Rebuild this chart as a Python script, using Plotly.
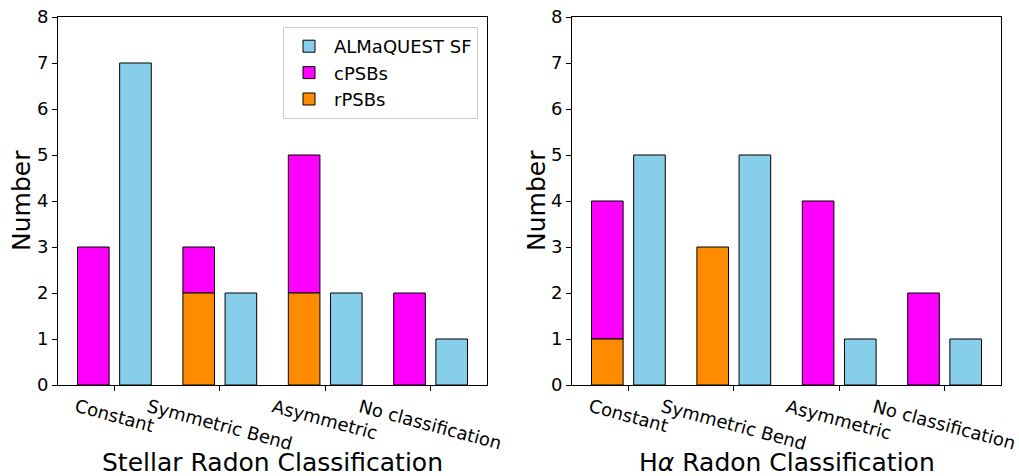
import numpy as np
import plotly.graph_objects as go

categories = ["Constant", "Symmetric Bend", "Asymmetric", "No classification"]

# Stellar Radon panel
stellar_sf = [7, 2, 2, 1]
stellar_cpsb = [3, 1, 3, 2]
stellar_rpsb = [0, 2, 2, 0]

# H-alpha Radon panel
halpha_sf = [5, 5, 1, 1]
halpha_cpsb = [3, 0, 4, 2]
halpha_rpsb = [1, 3, 0, 0]

titles = ["Stellar Radon Classification", "H<i>α</i> Radon Classification"]
ytitle = "Number"
yticks = [0, 1, 2, 3, 4, 5, 6, 7, 8]

C_SF = "#87CEEB"
C_C = "#FF00FF"
C_R = "#FF8C00"

W, H = 1019, 476
FONT = "DejaVu Sans"
TICK = 18
LAB = 25

# plot-area margins (pixels)
ML, MR, MT, MB = 58, 18, 17, 91
PW, PH = W - ML - MR, H - MT - MB

def px_x(p):  # figure pixel -> paper x
    return (p - ML) / PW

def px_y(p):  # figure pixel (from top) -> paper y
    return 1 - (p - MT) / PH

def nz(v):
    return [x if x != 0 else None for x in v]

fig = go.Figure()
x = np.arange(len(categories))
panels = [(stellar_sf, stellar_cpsb, stellar_rpsb), (halpha_sf, halpha_cpsb, halpha_rpsb)]
axes = [("x", "y"), ("x2", "y2")]
for p, ((sf, cp, rp), (xa, ya)) in enumerate(zip(panels, axes)):
    show = p == 0
    fig.add_trace(go.Bar(x=x + 0.2, y=sf, width=0.3, marker=dict(color=C_SF, line=dict(color="black", width=1)),
                         name="ALMaQUEST SF", showlegend=show, xaxis=xa, yaxis=ya))
    fig.add_trace(go.Bar(x=x - 0.2, y=nz(cp), base=rp, width=0.3, marker=dict(color=C_C, line=dict(color="black", width=1)),
                         name="cPSBs", showlegend=show, xaxis=xa, yaxis=ya))
    fig.add_trace(go.Bar(x=x - 0.2, y=nz(rp), width=0.3, marker=dict(color=C_R, line=dict(color="black", width=1)),
                         name="rPSBs", showlegend=show, xaxis=xa, yaxis=ya))

xdoms = [[px_x(58), px_x(487)], [px_x(572), px_x(1001)]]
ydom = [0, 1]

axcommon = dict(showline=True, linecolor="black", linewidth=1, mirror=True, showgrid=False, zeroline=False,
                ticks="outside", ticklen=5, tickcolor="black", tickwidth=1, automargin=False)
fig.update_layout(
    xaxis=dict(domain=xdoms[0], range=[-0.535, 3.535], tickvals=list(x), showticklabels=False, anchor="y", **axcommon),
    yaxis=dict(domain=ydom, range=[0, 8], tickvals=yticks, anchor="x", tickfont=dict(size=TICK, color="black"), **axcommon),
    xaxis2=dict(domain=xdoms[1], range=[-0.535, 3.535], tickvals=list(x), showticklabels=False, anchor="y2", **axcommon),
    yaxis2=dict(domain=ydom, range=[0, 8], tickvals=yticks, anchor="x2", tickfont=dict(size=TICK, color="black"), **axcommon),
)

anns = []
for p, xa in enumerate(["x", "x2"]):
    for i, c in enumerate(categories):
        anns.append(dict(x=i, xref=xa, y=px_y(394), yref="paper", text=c, showarrow=False, textangle=15,
                         xanchor="center", yanchor="top", font=dict(size=TICK, color="black", family=FONT), borderpad=0))
    xc = (xdoms[p][0] + xdoms[p][1]) / 2
    anns.append(dict(x=xc, xref="paper", y=px_y(462), yref="paper", text=titles[p], showarrow=False,
                     xanchor="center", yanchor="middle", font=dict(size=LAB, color="black", family=FONT), borderpad=0))
    anns.append(dict(x=px_x(21 if p == 0 else 536), xref="paper", y=px_y(201), yref="paper", text=ytitle,
                     showarrow=False, textangle=-90, xanchor="center", yanchor="middle", borderpad=0,
                     font=dict(size=LAB, color="black", family=FONT)))

fig.update_layout(
    annotations=anns,
    barmode="overlay",
    width=W, height=H,
    margin=dict(l=ML, r=MR, t=MT, b=MB, autoexpand=False),
    paper_bgcolor="white", plot_bgcolor="white",
    font=dict(family=FONT, size=TICK, color="black"),
    legend=dict(x=px_x(478), y=px_y(27), xanchor="right", yanchor="top", bordercolor="#cccccc", borderwidth=1,
                bgcolor="white", font=dict(size=TICK), traceorder="normal", itemwidth=40),
)

fig.write_html("out.html")
